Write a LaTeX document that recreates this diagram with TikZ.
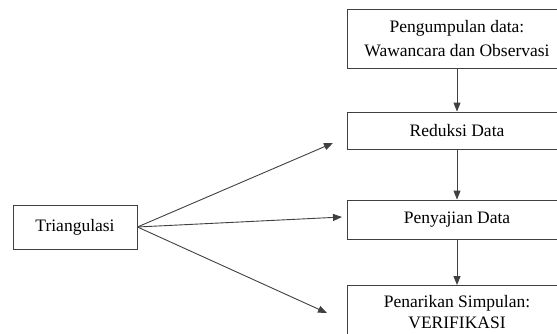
\documentclass[tikz,border=0pt]{standalone}
\usepackage{fontspec}
\setmainfont{Liberation Serif}
\usetikzlibrary{arrows.meta}
\begin{document}
\begin{tikzpicture}[x=1pt,y=1pt,
  box/.style={draw=black!75,line width=0.9pt,minimum width=220pt,align=center,inner sep=0pt,font=\fontsize{17.5}{24}\selectfont},
  conn/.style={draw=black!75,line width=0.9pt,-{Triangle[length=9pt,width=7pt]}}]
\useasboundingbox (0,0) rectangle (557,333);
\clip (0,0) rectangle (557,333);
\node[box,minimum height=59pt] (kumpul) at (457,294.5) {Pengumpulan data:\\Wawancara dan Observasi};
\node[box,minimum height=37pt] (reduksi) at (457,202.5) {Reduksi Data};
\node[box,minimum height=39pt] (sajian) at (457,113.5) {Penyajian Data};
\node[box,minimum height=53pt,anchor=north,font=\fontsize{17.5}{21}\selectfont] (tarik) at (457,48) {Penarikan Simpulan:\\VERIFIKASI};
\node[box,minimum width=124pt,minimum height=44pt] (tri) at (75,106) {Triangulasi};
\coordinate (e1) at (333,190);
\coordinate (e2) at (342,116);
\coordinate (e3) at (327,20);
\draw[conn] (kumpul.south) -- (reduksi.north);
\draw[conn] (reduksi.south) -- (sajian.north);
\draw[conn] (sajian.south) -- (tarik.north);
\draw[conn] (tri.east) -- (e1);
\draw[conn] (tri.east) -- (e2);
\draw[conn] (tri.east) -- (e3);
\end{tikzpicture}
\end{document}
